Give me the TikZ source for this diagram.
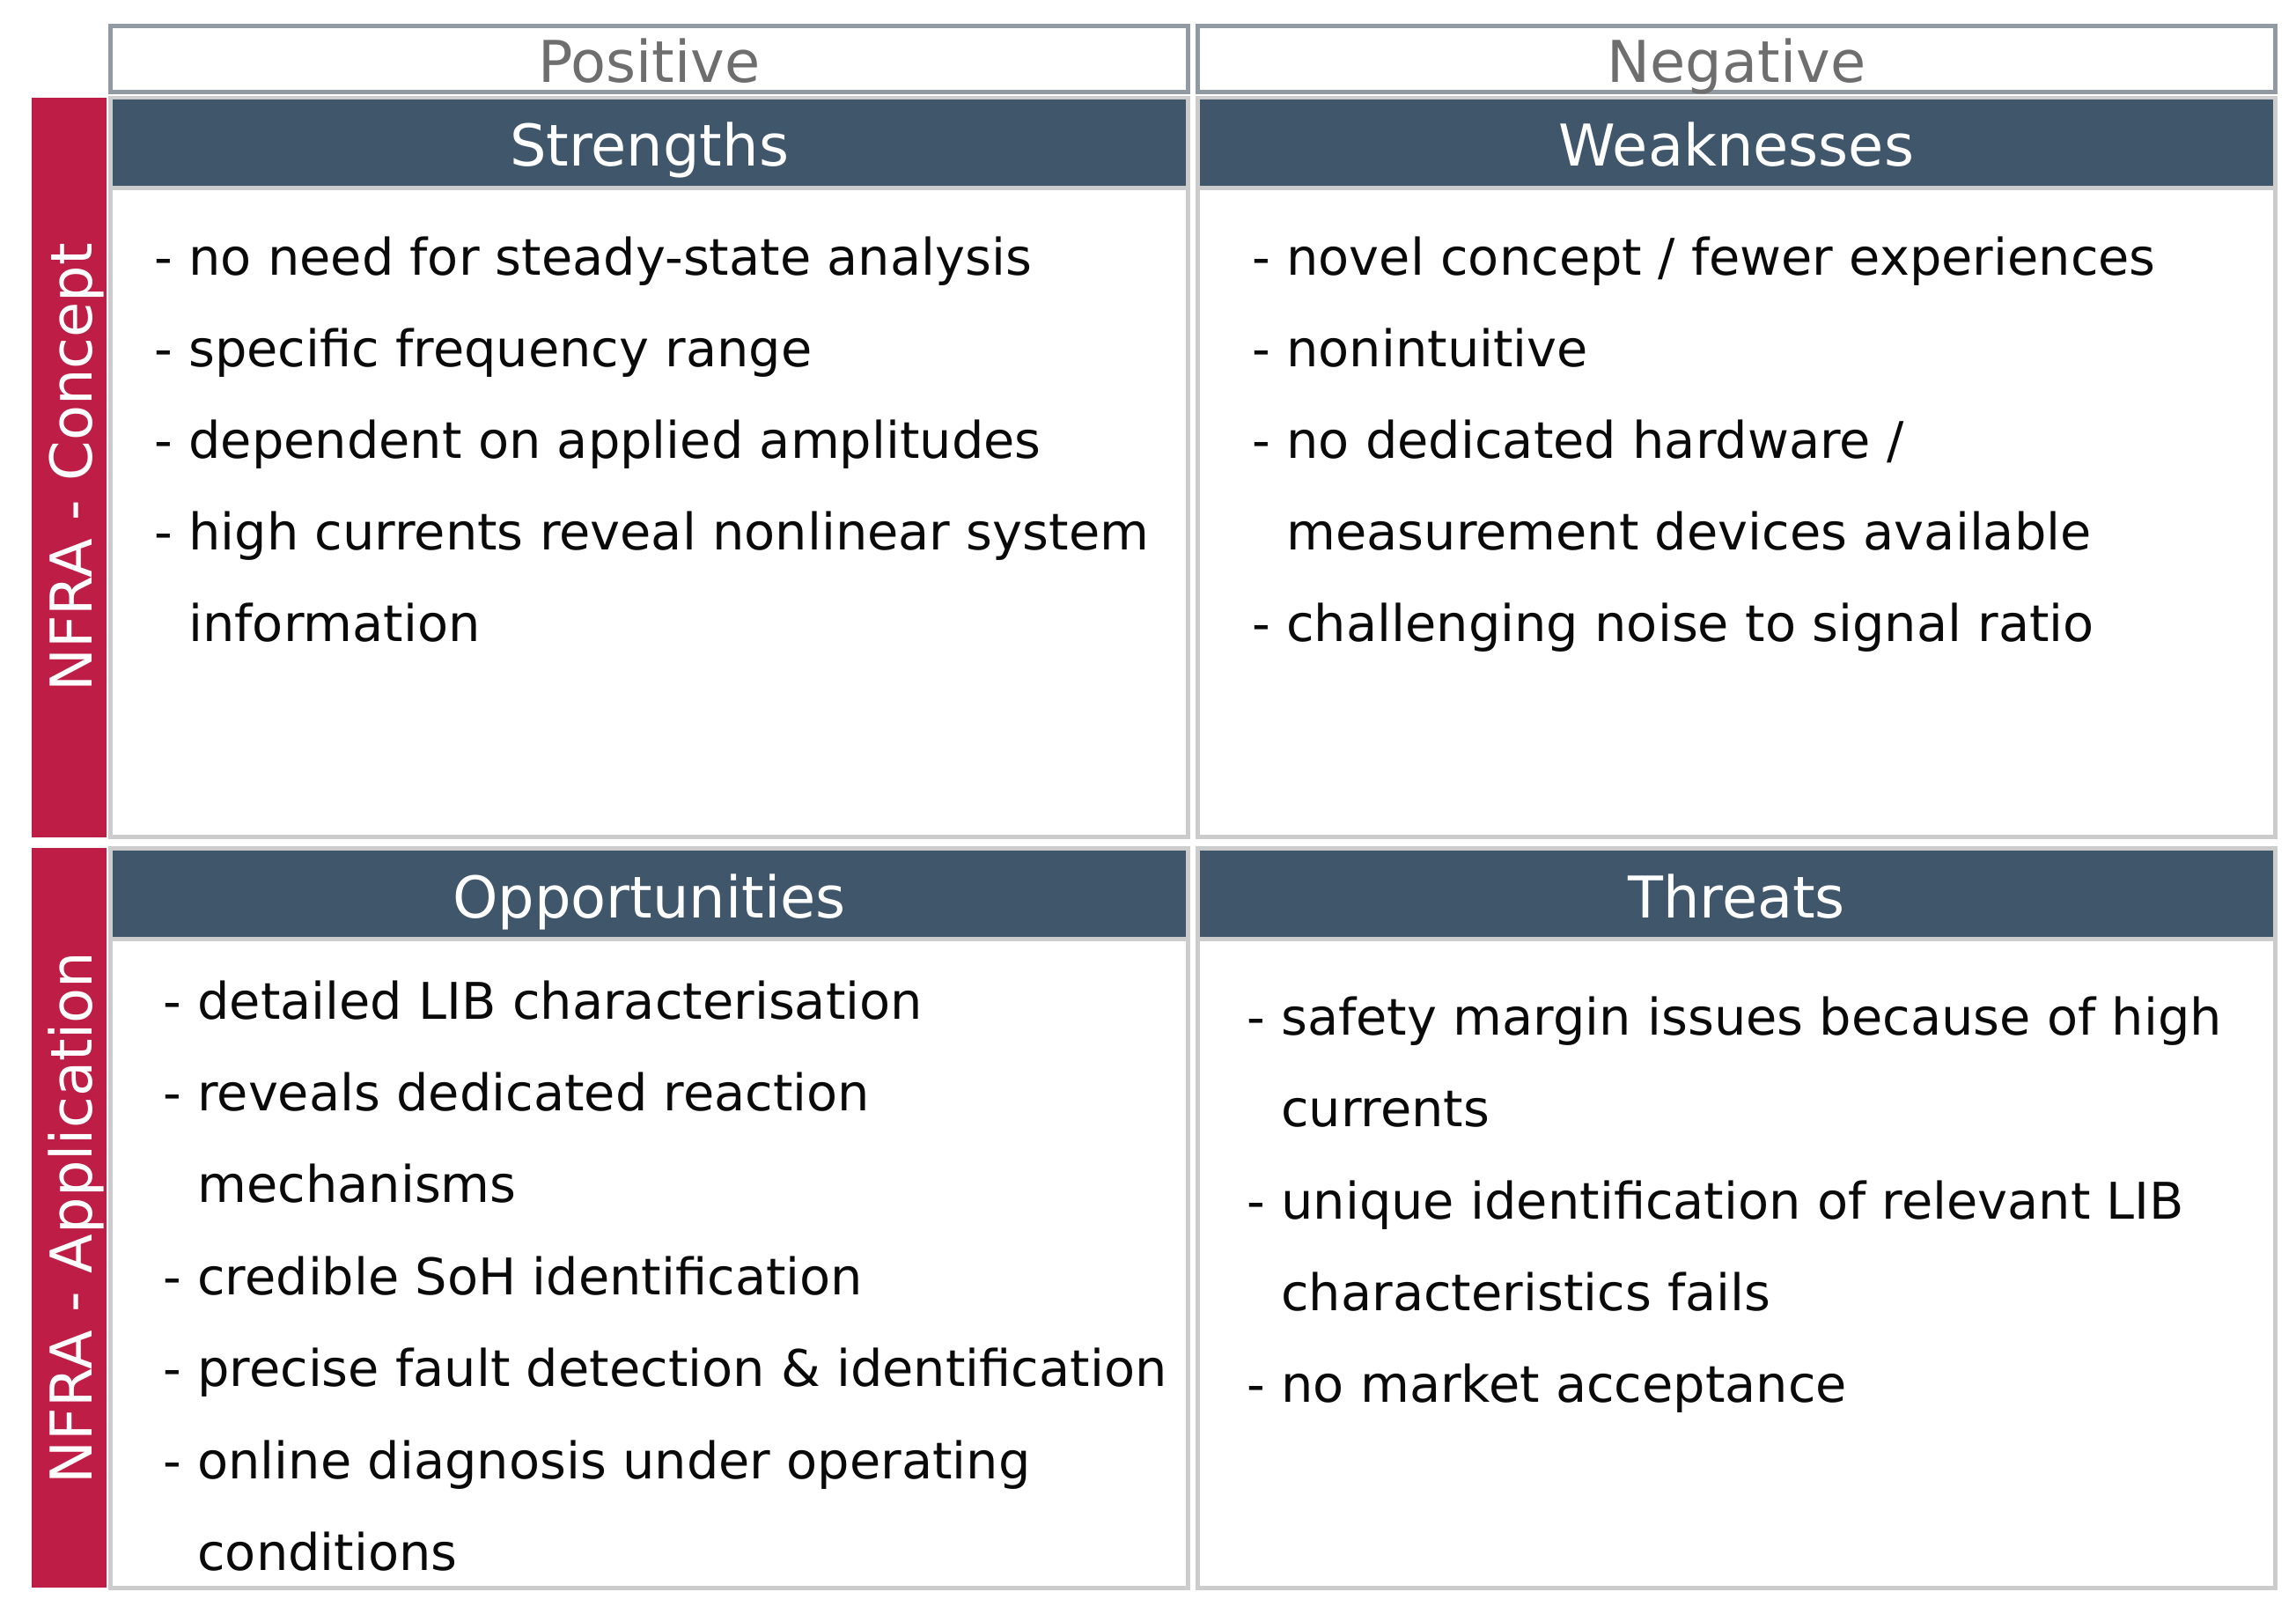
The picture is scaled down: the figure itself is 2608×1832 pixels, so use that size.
\documentclass[tikz,border=0pt]{standalone}
\usepackage{fontspec}
\setmainfont{DejaVu Sans}
\definecolor{swred}{HTML}{BE1E45}
\definecolor{swhdr}{HTML}{40566B}
\definecolor{swgray}{HTML}{CBCCCB}
\definecolor{swblue}{HTML}{9199A2}
\definecolor{swtxt}{HTML}{6E6E6E}
\definecolor{swbody}{HTML}{0A0A0A}
\newcommand\swbodyfont{\fontsize{28.7}{34}\selectfont}
\newcommand\swheadfont{\fontsize{32.7}{38}\selectfont}
\newcommand\swind{\hphantom{- }}
\begin{document}
\begin{tikzpicture}[x=0.5pt,y=-0.5pt,
  quad/.style={fill=white,draw=swgray,line width=2.5pt},
  topbox/.style={fill=white,draw=swblue,line width=2.5pt},
  hdrfill/.style={fill=swhdr},
  sep/.style={draw=swgray,line width=2.5pt},
  sidebar/.style={fill=swred},
  hdrtext/.style={anchor=base,inner sep=0,text=white,font=\swheadfont},
  toptext/.style={anchor=base,inner sep=0,text=swtxt,font=\swheadfont},
  sidetext/.style={anchor=base,inner sep=0,text=white,font=\swheadfont,rotate=90},
  item/.style={anchor=base west,inner sep=0,text=swbody,font=\swbodyfont}]
\useasboundingbox (0,0) rectangle (2608,1832);
% top labels
\path[topbox] (125.5,29.5) rectangle (1349.5,104.5);
\path[topbox] (1360.5,29.5) rectangle (2584.5,104.5);
\node[toptext] (pos) at (737.5,93) {Positive};
\node[toptext] (neg) at (1972.5,93) {Negative};
% side bars
\path[sidebar] (36,111) rectangle (121,951);
\path[sidebar] (36,963) rectangle (121,1803);
\node[sidetext] (concept) at (104,531) {NFRA - Concept};
\node[sidetext] (appl) at (104,1383) {NFRA - Application};
% quadrants
\path[quad] (125.5,111.5) rectangle (1349.5,950.5);
\path[quad] (1360.5,111.5) rectangle (2584.5,950.5);
\path[quad] (125.5,963.5) rectangle (1349.5,1803.5);
\path[quad] (1360.5,963.5) rectangle (2584.5,1803.5);
\path[hdrfill] (128,113) rectangle (1347,211);
\path[hdrfill] (1363,113) rectangle (2582,211);
\path[hdrfill] (128,966) rectangle (1347,1064);
\path[hdrfill] (1363,966) rectangle (2582,1064);
\draw[sep] (128,213.5) -- (1347,213.5);
\draw[sep] (1363,213.5) -- (2582,213.5);
\draw[sep] (128,1066.5) -- (1347,1066.5);
\draw[sep] (1363,1066.5) -- (2582,1066.5);
\node[hdrtext] (hs) at (737.5,188) {Strengths};
\node[hdrtext] (hw) at (1972.5,188) {Weaknesses};
\node[hdrtext] (ho) at (737.5,1042) {Opportunities};
\node[hdrtext] (ht) at (1972.5,1042) {Threats};
% strengths
\node[item] (s1) at (175,312) {- no need for steady-state analysis};
\node[item] (s2) at (175,416) {- specific frequency range};
\node[item] (s3) at (175,520) {- dependent on applied amplitudes};
\node[item] (s4) at (175,624) {- high currents reveal nonlinear system};
\node[item] (s5) at (175,728) {\swind information};
% weaknesses
\node[item] (w1) at (1422,312) {- novel concept / fewer experiences};
\node[item] (w2) at (1422,416) {- nonintuitive};
\node[item] (w3) at (1422,520) {- no dedicated hardware /};
\node[item] (w4) at (1422,624) {\swind measurement devices available};
\node[item] (w5) at (1422,728) {- challenging noise to signal ratio};
% opportunities
\node[item] (o1) at (185,1157) {- detailed LIB characterisation};
\node[item] (o2) at (185,1261) {- reveals dedicated reaction};
\node[item] (o3) at (185,1365) {\swind mechanisms};
\node[item] (o4) at (185,1470) {- credible SoH identification};
\node[item] (o5) at (185,1574) {- precise fault detection \& identification};
\node[item] (o6) at (185,1679) {- online diagnosis under operating};
\node[item] (o7) at (185,1783) {\swind conditions};
% threats
\node[item] (t1) at (1416,1175) {- safety margin issues because of high};
\node[item] (t2) at (1416,1279) {\swind currents};
\node[item] (t3) at (1416,1384) {- unique identification of relevant LIB};
\node[item] (t4) at (1416,1488) {\swind characteristics fails};
\node[item] (t5) at (1416,1592) {- no market acceptance};
\end{tikzpicture}
\end{document}
